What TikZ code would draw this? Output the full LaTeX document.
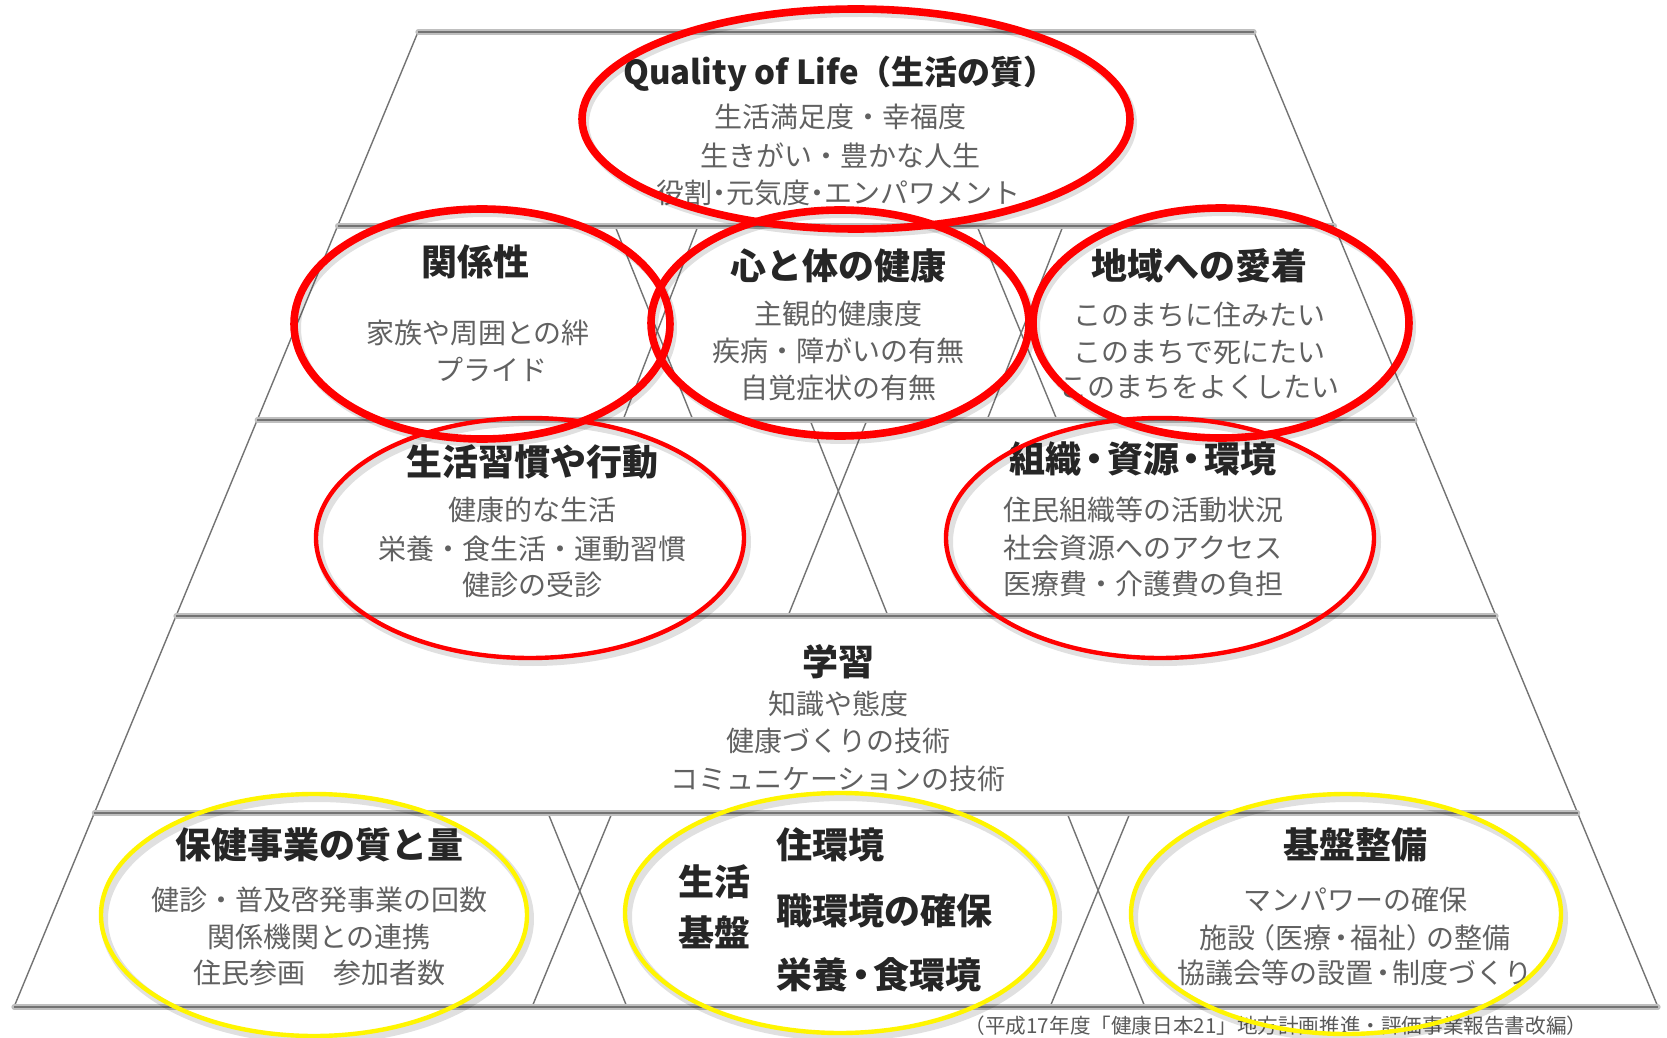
\documentclass[tikz,border=0pt]{standalone}
\usepackage{fontspec}
\setmainfont{Noto Sans CJK JP}
\newcommand\nd{\hspace{-0.15em}・\hspace{-0.15em}}
\newcommand\ndd{\hspace{-0.25em}・\hspace{-0.25em}}
\newcommand\lpar{\hspace{-0.3em}（}
\newcommand\rpar{）\hspace{-0.3em}}
\begin{document}
\begin{tikzpicture}[x=0.5pt,y=-0.5pt,
  rim/.style={line width=2.6pt, draw=black!25, line cap=round},
  rimcore/.style={line width=0.8pt, draw=black!55},
  side/.style={line width=0.7pt, draw=black!55},
  cross/.style={line width=0.7pt, draw=black!55},
  title/.style={font=\fontsize{18}{20}\selectfont\bfseries, text=black!85, inner sep=0pt},
  qol/.style={font=\fontsize{16.5}{20}\selectfont\bfseries, text=black!85, inner sep=0pt},
  sub/.style={font=\fontsize{14}{16}\selectfont, text=black!62, inner sep=0pt},
  cite/.style={font=\fontsize{10.3}{12}\selectfont, text=black!65, inner sep=0pt},
  redthick/.style={draw=red, line width=3.8pt},
  redthin/.style={draw=red, line width=2.2pt},
  yel/.style={draw={rgb,255:red,255;green,245;blue,0}, line width=2.2pt},
  shad/.style={draw=black, opacity=0.12, line width=4pt}
]
\useasboundingbox[fill=white] (0,0) rectangle (1667,1038);

% pyramid corners per level
\coordinate (L0) at (418,32);   \coordinate (R0) at (1254,32);
\coordinate (L1) at (337.6,226);\coordinate (R1) at (1334.4,226);
\coordinate (L2) at (257.2,420);\coordinate (R2) at (1414.8,420);
\coordinate (L3) at (176,616);  \coordinate (R3) at (1496,616);
\coordinate (L4) at (94.4,813); \coordinate (R4) at (1577.6,813);
\coordinate (L5) at (14,1007);  \coordinate (R5) at (1658,1007);

\draw[side] (L0) -- (L5);
\draw[side] (R0) -- (R5);

% row 2 crossings
\coordinate (a1) at (615,226); \coordinate (a2) at (693,420);
\coordinate (a3) at (698,226); \coordinate (a4) at (623,420);
\coordinate (b1) at (977,226); \coordinate (b2) at (1057,420);
\coordinate (b3) at (1063,226);\coordinate (b4) at (987,420);
\draw[cross] (a1) -- (a2); \draw[cross] (a3) -- (a4);
\draw[cross] (b1) -- (b2); \draw[cross] (b3) -- (b4);
% row 3 crossing
\coordinate (c1) at (810,420); \coordinate (c2) at (888,616);
\coordinate (c3) at (867,420); \coordinate (c4) at (788,616);
\draw[cross] (c1) -- (c2); \draw[cross] (c3) -- (c4);
% row 5 crossings
\coordinate (d1) at (548,813); \coordinate (d2) at (627,1007);
\coordinate (d3) at (612,813); \coordinate (d4) at (532,1007);
\coordinate (e1) at (1067,813);\coordinate (e2) at (1145,1007);
\coordinate (e3) at (1130,813);\coordinate (e4) at (1050,1007);
\draw[cross] (d1) -- (d2); \draw[cross] (d3) -- (d4);
\draw[cross] (e1) -- (e2); \draw[cross] (e3) -- (e4);

\foreach \i in {0,...,5}{
  \draw[rim] (L\i) -- (R\i);
  \draw[rimcore] (L\i) -- (R\i);
}

% row 1
\node[qol] (q0) at (840,74) {Quality of Life（生活の質）};
\node[sub] (q1) at (840,117) {生活満足度・幸福度};
\node[sub] (q2) at (840,156) {生きがい・豊かな人生};
\node[sub] (q3) at (838,193) {役割\ndd 元気度\ndd エンパワメント};

% row 2
\node[title] (k0) at (475,262) {関係性};
\node[sub] (k1) at (478,333) {家族や周囲との絆};
\node[sub] (k2) at (491,369) {プライド};
\node[title] (h0) at (838,266) {心と体の健康};
\node[sub] (h1) at (838,314) {主観的健康度};
\node[sub] (h2) at (838,351) {疾病・障がいの有無};
\node[sub] (h3) at (838,388) {自覚症状の有無};
\node[title] (t0) at (1199,266) {地域への愛着};
\node[sub] (t1) at (1199,315) {このまちに住みたい};
\node[sub] (t2) at (1199,352) {このまちで死にたい};
\node[sub] (t3) at (1199,387) {このまちをよくしたい};

% row 3
\node[title] (s0) at (532,462) {生活習慣や行動};
\node[sub] (s1) at (532,510) {健康的な生活};
\node[sub] (s2) at (532,549) {栄養・食生活・運動習慣};
\node[sub] (s3) at (532,585) {健診の受診};
\node[title] (o0) at (1143,459) {組織\nd 資源\nd 環境};
\node[sub] (o1) at (1143,510) {住民組織等の活動状況};
\node[sub] (o2) at (1143,548) {社会資源へのアクセス};
\node[sub] (o3) at (1143,584) {医療費・介護費の負担};

% row 4
\node[title] (g0) at (838,662) {学習};
\node[sub] (g1) at (838,704) {知識や態度};
\node[sub] (g2) at (838,741) {健康づくりの技術};
\node[sub] (g3) at (838,779) {コミュニケーションの技術};

% row 5
\node[title] (p0) at (319,845) {保健事業の質と量};
\node[sub] (p1) at (319,900) {健診・普及啓発事業の回数};
\node[sub] (p2) at (319,937) {関係機関との連携};
\node[sub] (p3) at (319,973) {住民参画　参加者数};
\node[title] (m0) at (714,882) {生活};
\node[title] (m1) at (714,932) {基盤};
\node[title, anchor=west] (m2) at (776,845) {住環境};
\node[title, anchor=west] (m3) at (776,911) {職環境の確保};
\node[title, anchor=west] (m4) at (776,975) {栄養\nd 食環境};
\node[title] (f0) at (1355,845) {基盤整備};
\node[sub] (f1) at (1355,900) {マンパワーの確保};
\node[sub] (f2) at (1355,938) {施設\lpar 医療\nd 福祉\rpar の整備};
\node[sub] (f3) at (1355,973) {協議会等の設置\nd 制度づくり};

\node[cite] (src) at (1276,1026) {（平成17年度「健康日本21」地方計画推進・評価事業報告書改編）};

% ellipse shadows
\foreach \cx/\cy/\rx/\ry in {856/119/137/55, 482/324/94/57.5, 840/323/94.5/56.5, 1221/323/94/57.5,
  530/538/107/60, 1160/538/107/60, 314/915/106.5/60.5, 840/913/107.5/60, 1346/914/107.5/60}{
  \draw[shad] (\cx+3,\cy+4) ellipse [x radius=\rx pt, y radius=\ry pt];
}
% ellipses
\draw[redthick] (856,119) ellipse [x radius=137pt, y radius=55pt];
\draw[redthick] (482,324) ellipse [x radius=94pt, y radius=57.5pt];
\draw[redthick] (840,323) ellipse [x radius=94.5pt, y radius=56.5pt];
\draw[redthick] (1221,323) ellipse [x radius=94pt, y radius=57.5pt];
\draw[redthin] (530,538) ellipse [x radius=107pt, y radius=60pt];
\draw[redthin] (1160,538) ellipse [x radius=107pt, y radius=60pt];
\draw[yel] (314,915) ellipse [x radius=106.5pt, y radius=60.5pt];
\draw[yel] (840,913) ellipse [x radius=107.5pt, y radius=60pt];
\draw[yel] (1346,914) ellipse [x radius=107.5pt, y radius=60pt];
\end{tikzpicture}
\end{document}
